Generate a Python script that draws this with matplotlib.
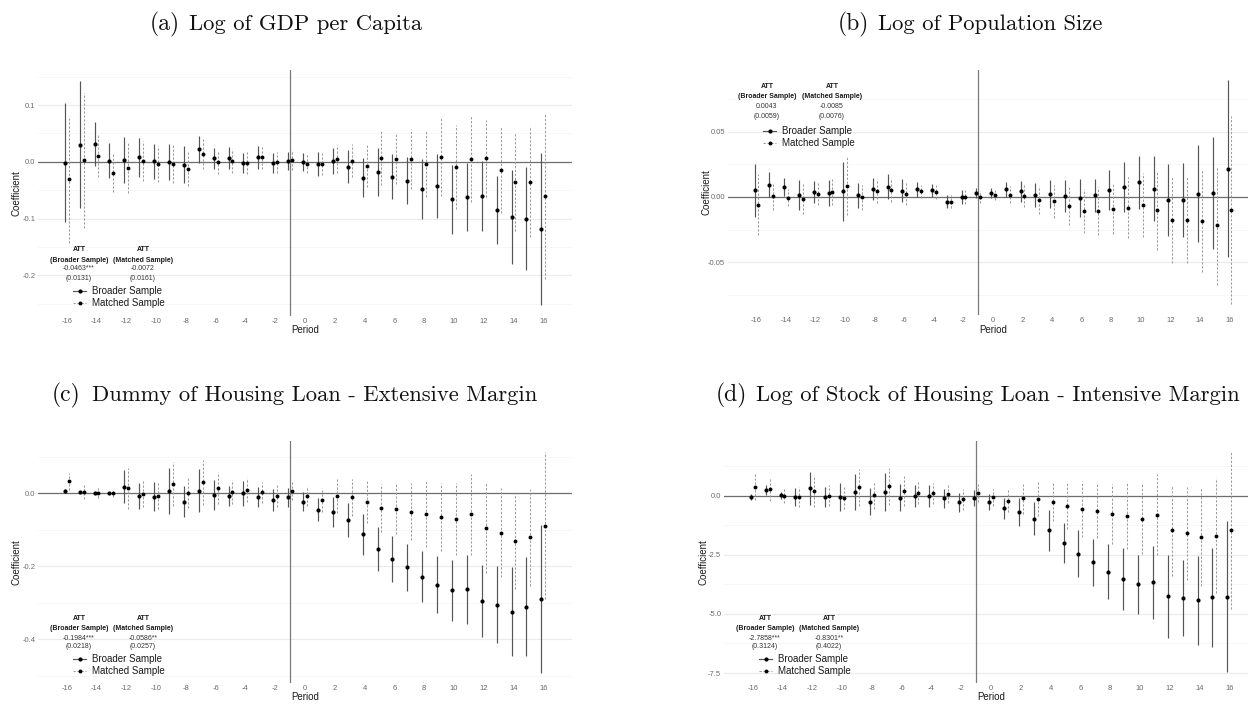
import matplotlib
matplotlib.use("Agg")
import matplotlib.pyplot as plt
from matplotlib.lines import Line2D
import numpy as np

plt.rcParams['font.family'] = ['Liberation Sans', 'DejaVu Sans']
plt.rcParams['axes.unicode_minus'] = False

W, H = 1248, 704

periods = list(range(-16, 17))
xticks = list(range(-16, 17, 2))

# (a) log of GDP per capita
gdp_broad_coef = [-0.002, 0.030, 0.032, 0.002, 0.003, 0.008, 0.001, 0.000, -0.005, 0.022, 0.006,
                  0.007, -0.002, 0.008, -0.002, 0.002, -0.001, -0.004, 0.001, -0.009, -0.028, -0.018,
                  -0.026, -0.033, -0.048, -0.043, -0.066, -0.062, -0.060, -0.085, -0.097, -0.100, -0.119]
gdp_broad_ci = [0.105, 0.112, 0.039, 0.031, 0.040, 0.034, 0.031, 0.032, 0.033, 0.024, 0.019,
                0.019, 0.017, 0.020, 0.017, 0.016, 0.016, 0.021, 0.023, 0.029, 0.034, 0.042,
                0.040, 0.041, 0.053, 0.056, 0.061, 0.060, 0.062, 0.060, 0.083, 0.091, 0.134]
gdp_match_coef = [-0.031, 0.003, 0.011, -0.019, -0.011, 0.002, -0.004, -0.003, -0.012, 0.014, -0.001,
                  0.002, -0.002, 0.008, -0.001, 0.003, -0.003, -0.004, 0.005, 0.002, -0.007, 0.007,
                  0.005, 0.005, -0.003, 0.008, -0.009, 0.005, 0.006, -0.014, -0.036, -0.035, -0.060]
gdp_match_ci = [0.112, 0.119, 0.038, 0.034, 0.044, 0.035, 0.032, 0.034, 0.031, 0.026, 0.020,
                0.021, 0.019, 0.020, 0.018, 0.018, 0.016, 0.019, 0.024, 0.029, 0.038, 0.048,
                0.044, 0.053, 0.059, 0.069, 0.074, 0.075, 0.068, 0.076, 0.086, 0.098, 0.146]

# (b) log of population size
pop_broad_coef = [0.0051, 0.0092, 0.0077, 0.0015, 0.0036, 0.0033, 0.0044, 0.0013, 0.0062, 0.0079, 0.0049,
                  0.0059, 0.0051, -0.0036, 0.0000, 0.0031, 0.0031, 0.0059, 0.0044, 0.0015, 0.0021, 0.0005,
                  -0.0010, 0.0013, 0.0054, 0.0074, 0.0113, 0.0064, -0.0023, -0.0023, 0.0026, 0.0031, 0.0215]
pop_broad_ci = [0.0205, 0.0096, 0.0068, 0.0118, 0.0083, 0.0099, 0.0226, 0.0096, 0.0086, 0.0095, 0.0090,
                0.0058, 0.0050, 0.0049, 0.0054, 0.0037, 0.0037, 0.0059, 0.0081, 0.0091, 0.0108, 0.0123,
                0.0145, 0.0127, 0.0155, 0.0192, 0.0204, 0.0251, 0.0277, 0.0285, 0.0371, 0.0431, 0.0677]
pop_match_coef = [-0.0059, 0.0005, -0.0005, -0.0013, 0.0021, 0.0038, 0.0082, -0.0003, 0.0044, 0.0054, 0.0026,
                  0.0044, 0.0036, -0.0036, 0.0000, 0.0000, 0.0015, 0.0018, 0.0010, -0.0021, -0.0033, -0.0067,
                  -0.0108, -0.0108, -0.0090, -0.0082, -0.0059, -0.0103, -0.0177, -0.0177, -0.0182, -0.0218, -0.0100]
pop_match_ci = [0.0231, 0.0103, 0.0068, 0.0119, 0.0083, 0.0101, 0.0224, 0.0096, 0.0090, 0.0092, 0.0086,
                0.0051, 0.0055, 0.0049, 0.0053, 0.0045, 0.0041, 0.0064, 0.0086, 0.0108, 0.0128, 0.0150,
                0.0169, 0.0185, 0.0196, 0.0233, 0.0244, 0.0301, 0.0332, 0.0332, 0.0394, 0.0453, 0.0723]

# (c) dummy of housing loan
ext_broad_coef = [0.006, 0.002, 0.000, -0.001, 0.018, -0.008, -0.010, 0.006, -0.023, 0.006, -0.005,
                  -0.008, -0.001, -0.011, -0.019, -0.012, -0.023, -0.045, -0.052, -0.074, -0.113, -0.154,
                  -0.180, -0.203, -0.228, -0.251, -0.266, -0.263, -0.295, -0.305, -0.324, -0.310, -0.289]
ext_broad_ci = [0.006, 0.003, 0.002, 0.002, 0.046, 0.036, 0.040, 0.062, 0.043, 0.059, 0.041,
                0.028, 0.034, 0.028, 0.030, 0.025, 0.027, 0.031, 0.042, 0.047, 0.055, 0.060,
                0.064, 0.065, 0.069, 0.078, 0.084, 0.094, 0.098, 0.105, 0.121, 0.135, 0.202]
ext_match_coef = [0.032, 0.003, 0.000, 0.000, 0.013, -0.002, -0.007, 0.025, 0.001, 0.029, 0.015,
                  0.003, 0.009, 0.002, -0.008, 0.005, -0.008, -0.019, -0.008, -0.012, -0.024, -0.041,
                  -0.043, -0.051, -0.057, -0.065, -0.071, -0.058, -0.095, -0.108, -0.131, -0.121, -0.089]
ext_match_ci = [0.023, 0.018, 0.014, 0.012, 0.056, 0.037, 0.037, 0.060, 0.043, 0.062, 0.044,
                0.032, 0.032, 0.029, 0.030, 0.025, 0.027, 0.032, 0.046, 0.051, 0.057, 0.065,
                0.070, 0.078, 0.089, 0.092, 0.098, 0.110, 0.122, 0.121, 0.131, 0.133, 0.200]

# (d) log of stock of housing loan
int_broad_coef = [-0.04, 0.24, 0.01, -0.06, 0.31, -0.06, -0.06, 0.15, -0.25, 0.15, -0.08,
                  -0.02, -0.03, -0.12, -0.28, -0.10, -0.26, -0.54, -0.69, -0.98, -1.47, -2.01,
                  -2.46, -2.81, -3.21, -3.52, -3.75, -3.67, -4.25, -4.33, -4.42, -4.30, -4.27]
int_broad_ci = [0.13, 0.21, 0.15, 0.39, 0.70, 0.44, 0.60, 0.76, 0.58, 0.80, 0.58,
                0.46, 0.46, 0.42, 0.40, 0.35, 0.35, 0.45, 0.58, 0.70, 0.87, 0.85,
                0.99, 0.99, 1.15, 1.31, 1.26, 1.56, 1.75, 1.60, 1.88, 2.10, 3.19]
int_match_coef = [0.36, 0.26, 0.00, -0.04, 0.21, -0.01, -0.10, 0.35, 0.01, 0.39, 0.19,
                  0.13, 0.10, 0.06, -0.15, 0.12, -0.07, -0.22, -0.12, -0.15, -0.28, -0.44,
                  -0.56, -0.64, -0.78, -0.85, -0.97, -0.81, -1.47, -1.60, -1.75, -1.69, -1.47]
int_match_ci = [0.55, 0.50, 0.31, 0.42, 0.67, 0.44, 0.47, 0.78, 0.58, 0.78, 0.63,
                0.48, 0.44, 0.39, 0.44, 0.38, 0.36, 0.49, 0.65, 0.73, 0.81, 0.98,
                1.17, 1.17, 1.28, 1.42, 1.50, 1.72, 1.92, 1.98, 2.08, 2.42, 3.31]

att_labels = ["ATT", "ATT"]
att_samples = ["(Broader Sample)", "(Matched Sample)"]

panels = [
    dict(label="(a)", title="Log of GDP per Capita", title_xy=(150, 189, 30),
         box=(38, 70, 572, 316), ylim=(-0.272, 0.162),
         yticks=[-0.2, -0.1, 0.0, 0.1], ylabels=["-0.2", "-0.1", "0.0", "0.1"],
         yminor=[-0.25, -0.15, -0.05, 0.05, 0.15],
         broad=(gdp_broad_coef, gdp_broad_ci), match=(gdp_match_coef, gdp_match_ci),
         att=[("-0.0463***", "(0.0131)"), ("-0.0072", "(0.0161)")],
         att_pos=((79, 143), (249, 260, 269, 279)), leg=(73, 286), xlab=14),
    dict(label="(b)", title="Log of Population Size", title_xy=(838, 878, 30),
         box=(728, 70, 1258, 315), ylim=(-0.0904, 0.0972),
         yticks=[-0.05, 0.0, 0.05], ylabels=["-0.05", "0.00", "0.05"],
         yminor=[-0.075, -0.025, 0.025, 0.075],
         broad=(pop_broad_coef, pop_broad_ci), match=(pop_match_coef, pop_match_ci),
         att=[("0.0043", "(0.0059)"), ("-0.0085", "(0.0076)")],
         att_pos=((767, 832), (87, 97, 107, 116)), leg=(763, 126), xlab=15),
    dict(label="(c)", title="Dummy of Housing Loan - Extensive Margin", title_xy=(52, 92, 401),
         box=(38, 441, 572, 683), ylim=(-0.519, 0.1424),
         yticks=[-0.4, -0.2, 0.0], ylabels=["-0.4", "-0.2", "0.0"],
         yminor=[-0.5, -0.3, -0.1, 0.1],
         broad=(ext_broad_coef, ext_broad_ci), match=(ext_match_coef, ext_match_ci),
         att=[("-0.1984***", "(0.0218)"), ("-0.0586**", "(0.0257)")],
         att_pos=((79, 143), (619, 629, 638, 647)), leg=(73, 654), xlab=14),
    dict(label="(d)", title="Log of Stock of Housing Loan - Intensive Margin", title_xy=(716, 756, 401),
         box=(724, 441, 1258, 683), ylim=(-7.92, 2.31),
         yticks=[-7.5, -5.0, -2.5, 0.0], ylabels=["-7.5", "-5.0", "-2.5", "0.0"],
         yminor=[-6.25, -3.75, -1.25, 1.25],
         broad=(int_broad_coef, int_broad_ci), match=(int_match_coef, int_match_ci),
         att=[("-2.7858***", "(0.3124)"), ("-0.8301**", "(0.4022)")],
         att_pos=((765, 829), (619, 629, 638, 647)), leg=(759, 654), xlab=14),
]

broad_color = '#555555'
match_color = '#9c9c9c'
dash = (0, (2.2, 1.6))


def fx(x):
    return x / W


def fy(y):
    return 1 - y / H


fig = plt.figure(figsize=(W / 100, H / 100), dpi=100)

for p in panels:
    l, t, r, b = p['box']
    ax = fig.add_axes([fx(l), fy(b), (r - l) / W, (b - t) / H])
    x = np.array(periods, dtype=float)

    ax.axhline(0, color='#6e6e6e', lw=0.9, zorder=1)
    ax.axvline(-1, color='#7a7a7a', lw=0.9, zorder=1)

    bc, bci = p['broad']
    ax.errorbar(x - 0.13, bc, yerr=bci, fmt='o', ms=3.0, mfc='black', mec='black', mew=0,
                ecolor=broad_color, elinewidth=0.85, capsize=2.2, capthick=0.8, zorder=3)
    mc, mci = p['match']
    em = ax.errorbar(x + 0.13, mc, yerr=mci, fmt='o', ms=2.8, mfc='black', mec='black', mew=0,
                     ecolor=match_color, elinewidth=0.75, capsize=2.0, capthick=0.7, zorder=3)
    em[2][0].set_linestyle(dash)

    ax.set_xlim(-17.93, 17.93)
    ax.set_ylim(*p['ylim'])
    ax.set_xticks(xticks)
    ax.set_xticklabels([str(v) for v in xticks])
    ax.set_yticks(p['yticks'])
    ax.set_yticklabels(p['ylabels'])
    ax.set_yticks(p['yminor'], minor=True)
    ax.tick_params(axis='both', which='both', length=0, labelsize=5.5, labelcolor='#6a6a6a')
    ax.tick_params(axis='x', pad=1.5)
    ax.tick_params(axis='y', pad=2)
    ax.grid(axis='y', which='major', color='#ebebeb', lw=0.8)
    ax.grid(axis='y', which='minor', color='#f4f4f4', lw=0.5)
    ax.grid(axis='x', visible=False)
    ax.set_axisbelow(True)
    for s in ax.spines.values():
        s.set_visible(False)

    ax.set_xlabel('Period', fontsize=7, color='#1a1a1a')
    ax.xaxis.set_label_coords(0.5, -p['xlab'] / (b - t))
    ax.xaxis.label.set_va('center')
    ax.set_ylabel('Coefficient', fontsize=7, color='#1a1a1a')
    ax.yaxis.set_label_coords(-21 / (r - l), 0.5)
    ax.yaxis.label.set_va('center')

    handles = [
        Line2D([0], [0], color=broad_color, lw=0.85, marker='o', ms=3.0, mfc='black', mec='black', mew=0),
        Line2D([0], [0], color=match_color, lw=0.75, ls=dash, marker='o', ms=2.8, mfc='black', mec='black',
               mew=0),
    ]
    ax.legend(handles, ['Broader Sample', 'Matched Sample'], loc='upper left',
              bbox_to_anchor=(fx(p['leg'][0]), fy(p['leg'][1])), bbox_transform=fig.transFigure,
              frameon=False, fontsize=7, borderpad=0, borderaxespad=0, handlelength=1.35,
              handletextpad=0.6, labelspacing=0.25, labelcolor='#1a1a1a')

    cols, rows = p['att_pos']
    for k in range(2):
        fig.text(fx(cols[k]), fy(rows[0]), att_labels[k], ha='center', va='center',
                 fontsize=5, fontweight='bold', color='#1a1a1a')
        fig.text(fx(cols[k]), fy(rows[1]), att_samples[k], ha='center', va='center',
                 fontsize=5, fontweight='bold', color='#1a1a1a')
        fig.text(fx(cols[k]), fy(rows[2]), p['att'][k][0], ha='center', va='center',
                 fontsize=5, color='#333333')
        fig.text(fx(cols[k]), fy(rows[3]), p['att'][k][1], ha='center', va='center',
                 fontsize=5, color='#333333')

    x0, x1, yb = p['title_xy']
    fig.text(fx(x0), fy(yb), p['label'], ha='left', va='baseline', fontsize=17,
             family='cmr10', color='#111111')
    fig.text(fx(x1), fy(yb), p['title'], ha='left', va='baseline', fontsize=16.3,
             family='cmr10', color='#111111')

fig.savefig('out.png', dpi=100)
